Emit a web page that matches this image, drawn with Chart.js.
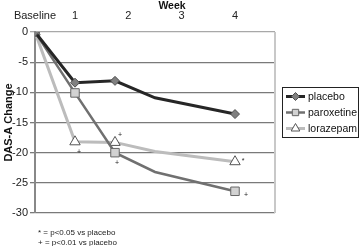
<!DOCTYPE html>
<html><head><meta charset="utf-8">
<script src="https://cdn.jsdelivr.net/npm/chart.js@4"></script>
<style>html,body{margin:0;padding:0;background:#fff}#c{display:block}</style>
</head><body>
<canvas id="c" width="360" height="246"></canvas>
<script>
// plotted slots along the horizontal axis (baseline, wk1, wk2, intermediate, wk4)
const slots = [0, 1, 2, 3, 5];
// top "Week" axis tick labels
const weekTickValues = [0.25, 1, 2, 3, 4];
const weekTickLabels = ['Baseline', '1', '2', '3', '4'];
// series (DAS-A change)
const placebo    = [0, -8.4, -8.1, -10.9, -13.6];
const paroxetine = [0, -10.1, -20.0, -23.2, -26.4];
const lorazepam  = [0, -18.2, -18.3, -19.8, -21.5];
const seriesNames = ['placebo', 'paroxetine', 'lorazepam'];
// significance marks per point
const paroxetineSig = ['', '', '+', '', '+'];
const lorazepamSig  = ['', '+', '+', '', '*'];
const footnotes = ['* = p<0.05 vs placebo', '+ = p<0.01 vs placebo'];

const FONT = "'Liberation Sans', Arial, sans-serif";
const toXY = arr => arr.map((v, i) => ({x: slots[i], y: v}));
const markR = r => slots.map((s, i) => i === 3 ? 0 : r);

const datasets = [
  {label: seriesNames[0], data: toXY(placebo), borderColor: '#262626', borderWidth: 3,
   pointStyle: 'rectRot', pointRadius: markR(4.5), pointBackgroundColor: '#808080',
   pointBorderColor: '#505050', pointBorderWidth: 1, tension: 0},
  {label: seriesNames[1], data: toXY(paroxetine), borderColor: '#707070', borderWidth: 2.5,
   pointStyle: 'rect', pointRadius: markR(6), pointBackgroundColor: '#d2d2d2',
   pointBorderColor: '#666', pointBorderWidth: 1, tension: 0},
  {label: seriesNames[2], data: toXY(lorazepam), borderColor: '#bcbcbc', borderWidth: 3,
   pointStyle: 'triangle', pointRadius: markR(6), pointBackgroundColor: '#ffffff',
   pointBorderColor: '#555', pointBorderWidth: 1, tension: 0}
];

const sigMarks = [
  {ds: 2, sig: lorazepamSig, off: [null, [4, 10], [5, -7], null, [8, -1]]},
  {ds: 1, sig: paroxetineSig, off: [null, null, [2, 10], null, [11, 4]]}
];

const decor = {
  id: 'decor',
  beforeDatasetsDraw(chart) {
    const ctx = chart.ctx, a = chart.chartArea;
    ctx.save();
    ctx.strokeStyle = '#c8c8c8'; ctx.lineWidth = 2;
    ctx.beginPath(); ctx.moveTo(a.right, a.top); ctx.lineTo(a.right, a.bottom); ctx.stroke();
    ctx.restore();
  },
  afterDraw(chart) {
    const ctx = chart.ctx;
    ctx.save();
    // Week title
    ctx.fillStyle = '#111'; ctx.font = 'bold 10.5px ' + FONT;
    ctx.textAlign = 'center'; ctx.textBaseline = 'middle';
    ctx.fillText('Week', 172, 6);
    // significance marks
    ctx.font = '7px ' + FONT; ctx.fillStyle = '#222';
    sigMarks.forEach(m => {
      const meta = chart.getDatasetMeta(m.ds);
      m.sig.forEach((s, i) => {
        if (!s || !m.off[i]) return;
        const p = meta.data[i];
        ctx.fillText(s, p.x + m.off[i][0], p.y + m.off[i][1]);
      });
    });
    // footnotes
    ctx.font = '8px ' + FONT; ctx.textAlign = 'left'; ctx.fillStyle = '#222';
    footnotes.forEach((t, i) => ctx.fillText(t, 38, 233 + i * 9.5));
    // legend
    const bx = 282, by = 87, bw = 76, bh = 50;
    ctx.strokeStyle = '#222'; ctx.lineWidth = 1;
    ctx.strokeRect(bx + 0.5, by + 0.5, bw, bh);
    const radii = [4, 4.5, 5];
    chart.data.datasets.forEach((d, i) => {
      const y = by + 9.5 + i * 16;
      ctx.strokeStyle = d.borderColor; ctx.lineWidth = d.borderWidth;
      ctx.beginPath(); ctx.moveTo(286, y); ctx.lineTo(305, y); ctx.stroke();
      ctx.fillStyle = d.pointBackgroundColor; ctx.strokeStyle = d.pointBorderColor; ctx.lineWidth = 1;
      Chart.helpers.drawPoint(ctx, {pointStyle: d.pointStyle, radius: radii[i], rotation: 0, borderWidth: 1}, 295.5, y);
      ctx.fillStyle = '#111'; ctx.font = '10.5px ' + FONT;
      ctx.textAlign = 'left'; ctx.textBaseline = 'middle';
      ctx.fillText(d.label, 308, y + 0.5);
    });
    ctx.restore();
  }
};

new Chart(document.getElementById('c'), {
  type: 'line',
  data: {datasets},
  options: {
    responsive: false, animation: false, devicePixelRatio: 1,
    layout: {padding: {top: 0, right: 85, bottom: 33, left: 0}},
    plugins: {legend: {display: false}, tooltip: {enabled: false}},
    scales: {
      x: {type: 'linear', min: 0, max: 6, display: false},
      xTop: {
        type: 'linear', position: 'top', min: 0.25, max: 4.75,
        grid: {display: false, drawTicks: false}, border: {display: false},
        afterBuildTicks: ax => { ax.ticks = weekTickValues.map(v => ({value: v})); },
        afterFit: s => { s.height = 32; },
        ticks: {autoSkip: false, maxRotation: 0, padding: 9, color: '#222',
          font: {family: FONT, size: 11},
          callback: (v, i) => weekTickLabels[i]}
      },
      y: {
        min: -30, max: 0,
        afterFit: s => { s.width = 35; },
        ticks: {stepSize: 5, color: '#222', padding: 2, font: {family: FONT, size: 11}},
        grid: {color: c => c.tick && c.tick.value === 0 ? '#a8a8a8' : '#7a7a7a',
               lineWidth: 1.3, tickLength: 5},
        border: {color: '#888', width: 2},
        title: {display: true, text: 'DAS-A Change', color: '#111',
                font: {family: FONT, size: 11, weight: 'bold'}, padding: {top: 2, bottom: 0}}
      }
    }
  },
  plugins: [decor]
});
</script>
</body></html>
